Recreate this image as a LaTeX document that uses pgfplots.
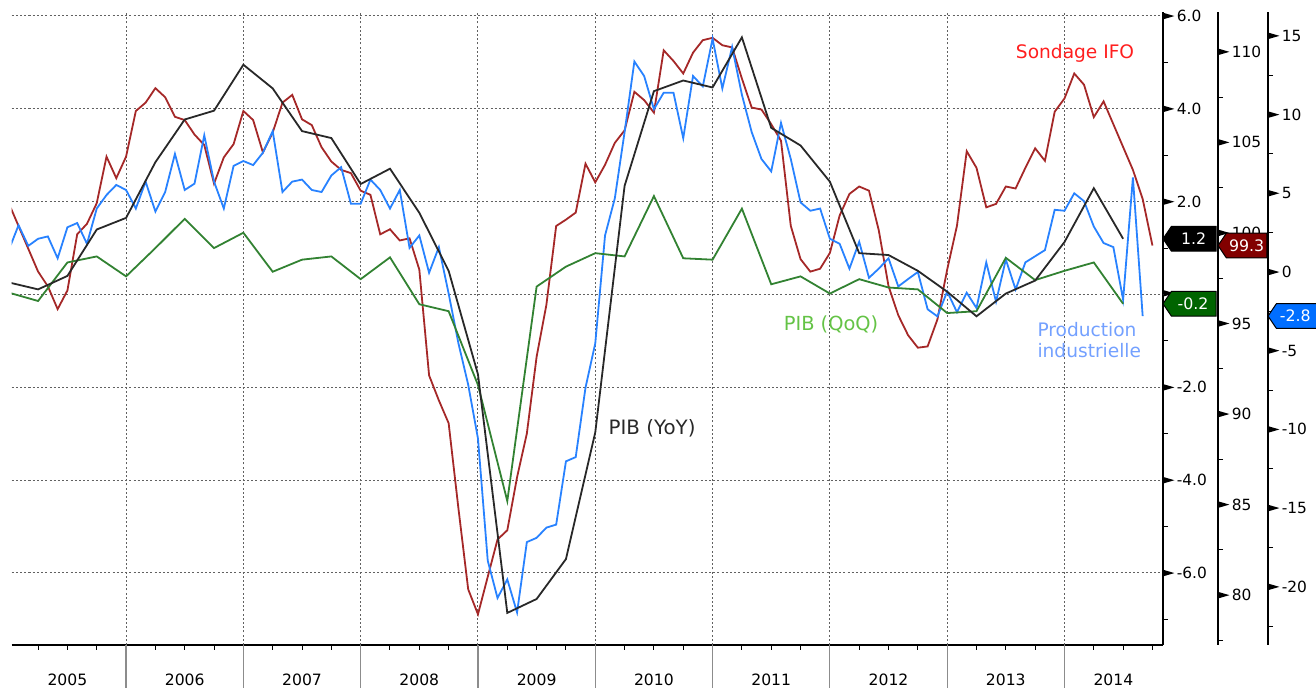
\documentclass[border=0pt]{standalone}
\usepackage{pgfplots}
\pgfplotsset{compat=1.18}
\usepackage{fontspec}
\setmainfont{DejaVu Sans}
\definecolor{ifoline}{RGB}{165,40,40}
\definecolor{prodline}{RGB}{40,130,255}
\definecolor{qoqline}{RGB}{50,130,50}
\definecolor{yoyline}{RGB}{40,40,40}
\definecolor{ifotext}{RGB}{255,30,30}
\definecolor{qoqtext}{RGB}{100,195,70}
\definecolor{prodtext}{RGB}{115,160,255}
\definecolor{tagred}{RGB}{130,0,0}
\definecolor{taggreen}{RGB}{0,100,0}
\definecolor{tagblue}{RGB}{0,110,255}
\newcommand{\tri}{\tikz[baseline=-0.36em]\fill[black] (0,-1.6pt)--(5.5pt,0)--(0,1.6pt)--cycle;}
\newcommand{\vtag}[5]{%
  \filldraw[fill=#2, draw=black, line width=0.5pt, line join=miter] (#1) -- ++(4.2pt,6.2pt) -- ++(#4,0) -- ++(0,-12.4pt) -- ++(-#4,0) -- cycle;
  \path (#1) ++(#5,0) node[text=white, font=\fontsize{7.9}{9}\selectfont, inner sep=0pt] {#3};
}
\pgfplotsset{
  base/.style={scale only axis, width=575.65pt, height=316.5pt, anchor=south west, xmin=0.3, xmax=118.08},
  pib/.style={ymin=-7.551, ymax=6.086},
  ifo/.style={ymin=77.245, ymax=112.197},
  prod/.style={ymin=-23.697, ymax=16.518},
  sidey/.style={hide x axis, axis y line=right, axis line style={-, line width=0.8pt},
    major tick length=0pt, minor tick length=2.5pt, tick align=outside,
    tick style={black, line width=0.5pt},
    yticklabel style={anchor=west, inner xsep=0pt, font=\fontsize{7.7}{9}\selectfont},
    yticklabel={\tri\hspace{1.2pt}\pgfmathprintnumber{\tick}},
    /pgf/number format/assume math mode=true, clip=false},
}
\begin{document}
\begin{tikzpicture}
\useasboundingbox (0,0) rectangle (658pt,344pt);
% main axis: grid, x axis, PIB scale
\begin{axis}[base, pib, at={(5.85pt,21.5pt)},
  axis x line=bottom, axis y line=right, axis line style={-, line width=0.8pt},
  ytick={-6,-4,-2,2,4,6}, minor ytick={-7,-5,...,5},
  extra y ticks={0}, extra y tick labels={\tri},
  extra y tick style={grid=major},
  xtick={6,18,30,42,54,66,78,90,102,113},
  xticklabels={2005,2006,2007,2008,2009,2010,2011,2012,2013,2014},
  minor xtick={3,6,9,15,18,21,27,30,33,39,42,45,51,54,57,63,66,69,75,78,81,87,90,93,99,102,105,111,114,117},
  extra x ticks={12,24,36,48,60,72,84,96,108},
  extra x tick labels={},
  extra x tick style={grid=major, major tick length=21.5pt, tick style={black!45, line width=0.6pt}},
  ymajorgrids,
  major grid style={black!62, line width=0.5pt, dash pattern=on 1pt off 1.1pt},
  major tick length=0pt, minor tick length=2.5pt, tick align=outside,
  tick style={black, line width=0.5pt},
  xticklabel style={anchor=base, yshift=-20.25pt, font=\fontsize{7.8}{9}\selectfont},
  yticklabel style={anchor=west, inner xsep=0pt, font=\fontsize{7.7}{9}\selectfont},
  yticklabel={\tri\hspace{1.2pt}\pgfmathprintnumber{\tick}},
  /pgf/number format/.cd, fixed, fixed zerofill, precision=1, assume math mode=true]
\end{axis}
% IFO data
\begin{axis}[base, ifo, at={(5.85pt,21.5pt)}, hide axis]
\addplot[ifoline, line width=0.9pt] table {
0 101.64
1 100.38
2 99.12
3 97.86
4 97.05
5 95.79
6 96.82
7 99.92
8 100.50
9 101.64
10 104.21
11 103.02
12 104.21
13 106.73
14 107.19
15 107.99
16 107.49
17 106.41
18 106.23
19 105.43
20 104.85
21 102.72
22 104.17
23 104.90
24 106.73
25 106.23
26 104.44
27 105.54
28 107.19
29 107.62
30 106.27
31 105.95
32 104.73
33 103.94
34 103.48
35 103.30
36 102.33
37 102.10
38 99.92
39 100.20
40 99.58
41 99.70
42 97.97
43 92.13
44 90.75
45 89.49
46 84.79
47 80.32
48 78.94
49 81.01
50 83.07
51 83.58
52 86.51
53 88.92
54 93.16
55 96.03
56 100.38
57 100.73
58 101.12
59 103.82
60 102.79
61 103.76
62 104.97
63 105.66
64 107.79
65 107.33
66 106.64
67 110.08
68 109.49
69 108.80
70 109.95
71 110.64
72 110.77
73 110.36
74 110.24
75 108.52
76 106.92
77 106.81
78 106.00
79 105.09
80 100.39
81 98.55
82 97.86
83 98.02
84 98.89
85 100.96
86 102.15
87 102.56
88 102.33
89 100.15
90 97.06
91 95.45
92 94.35
93 93.66
94 93.73
95 95.22
96 97.97
97 100.39
98 104.51
99 103.59
100 101.41
101 101.60
102 102.56
103 102.45
104 103.59
105 104.67
106 103.98
107 106.69
108 107.42
109 108.80
110 108.18
111 106.39
112 107.26
113 106.00
114 104.74
115 103.48
116 101.87
117 99.3
};
\end{axis}
% Production industrielle data
\begin{axis}[base, prod, at={(5.85pt,21.5pt)}, hide axis]
\addplot[prodline, line width=0.9pt] table {
0 1.39
1 2.97
2 1.66
3 2.11
4 2.26
5 0.87
6 2.84
7 3.11
8 1.79
9 4.03
10 4.89
11 5.53
12 5.21
13 4.03
14 5.74
15 3.84
16 5.08
17 7.50
18 5.21
19 5.61
20 8.68
21 5.74
22 4.03
23 6.74
24 7.05
25 6.79
26 7.58
27 8.95
28 5.08
29 5.74
30 5.87
31 5.21
32 5.08
33 6.13
34 6.66
35 4.34
36 4.34
37 5.87
38 5.21
39 4.03
40 5.21
41 1.53
42 2.32
43 -0.05
44 1.58
45 -1.37
46 -4.53
47 -7.16
48 -10.58
49 -18.34
50 -20.71
51 -19.53
52 -21.63
53 -17.16
54 -16.89
55 -16.24
56 -16.05
57 -12.03
58 -11.76
59 -7.35
60 -4.53
61 2.32
62 4.68
63 8.89
64 13.37
65 12.45
66 10.34
67 11.39
68 11.39
69 8.50
70 12.45
71 11.79
72 14.82
73 11.66
74 14.29
75 11.26
76 8.89
77 7.18
78 6.39
79 9.47
80 7.18
81 4.42
82 3.89
83 4.03
84 2.11
85 1.79
86 0.21
87 1.92
88 -0.37
89 0.21
90 0.87
91 -0.92
92 -0.45
93 0.00
94 -2.37
95 -2.82
96 -1.24
97 -2.55
98 -1.32
99 -2.29
100 0.61
101 -1.89
102 0.79
103 -1.11
104 0.61
105 1.00
106 1.39
107 3.95
108 3.89
109 5.00
110 4.50
111 2.89
112 1.84
113 1.58
114 -1.76
115 6.00
116 -2.8
};
\end{axis}
% PIB data (QoQ and YoY) and labels
\begin{axis}[base, pib, at={(5.85pt,21.5pt)}, hide axis, clip mode=individual]
\addplot[qoqline, line width=0.9pt] table {
0 0.04
3 -0.14
6 0.69
9 0.82
12 0.39
15 1.00
18 1.63
21 1.00
24 1.33
27 0.49
30 0.75
33 0.82
36 0.33
39 0.80
42 -0.21
45 -0.36
48 -1.95
51 -4.45
54 0.17
57 0.60
60 0.89
63 0.82
66 2.12
69 0.78
72 0.75
75 1.85
78 0.22
81 0.39
84 0.02
87 0.33
90 0.15
93 0.11
96 -0.40
99 -0.36
102 0.79
105 0.31
108 0.51
111 0.69
114 -0.2
};
\addplot[yoyline, line width=0.9pt] table {
0 0.26
3 0.11
6 0.40
9 1.40
12 1.65
15 2.85
18 3.77
21 3.96
24 4.95
27 4.44
30 3.52
33 3.37
36 2.38
39 2.71
42 1.76
45 0.51
48 -1.72
51 -6.86
54 -6.56
57 -5.70
60 -2.97
63 2.34
66 4.38
69 4.61
72 4.46
75 5.54
78 3.59
81 3.21
84 2.43
87 0.89
90 0.85
93 0.51
96 0.06
99 -0.47
102 0.02
105 0.30
108 1.13
111 2.29
114 1.2
};
\node[text=ifotext, font=\fontsize{9.3}{11}\selectfont] at (axis cs:109.08,5.203) {Sondage IFO};
\node[text=yoyline, font=\fontsize{9.9}{11}\selectfont] at (axis cs:65.81,-2.876) {PIB (YoY)};
\node[text=qoqtext, font=\fontsize{9.7}{11}\selectfont] at (axis cs:84.12,-0.636) {PIB (QoQ)};
\node[text=prodtext, font=\fontsize{9.3}{11}\selectfont, anchor=west, inner xsep=0pt] at (axis cs:105.2,-0.765) {Production};
\node[text=prodtext, font=\fontsize{9.3}{11}\selectfont, anchor=west, inner xsep=0pt] at (axis cs:105.2,-1.217) {industrielle};
\coordinate (tagyoy) at (axis cs:118.08,1.2);
\coordinate (tagqoq) at (axis cs:118.08,-0.2);
\end{axis}
% IFO scale
\begin{axis}[base, ifo, at={(33.35pt,21.5pt)}, sidey,
  ytick={80,85,...,110}, minor ytick={77.5,82.5,...,112.5}]
\coordinate (tagifo) at (axis cs:118.08,99.3);
\end{axis}
% Production scale
\begin{axis}[base, prod, at={(58.35pt,21.5pt)}, sidey,
  ytick={-20,-15,...,15}, minor ytick={-22.5,-17.5,...,12.5}]
\coordinate (tagprod) at (axis cs:118.08,-2.8);
\end{axis}
\vtag{tagyoy}{black}{1.2}{22.3pt}{15.3pt}
\vtag{tagqoq}{taggreen}{-0.2}{22.3pt}{15.0pt}
\vtag{tagifo}{tagred}{99.3}{20.2pt}{14.3pt}
\vtag{tagprod}{tagblue}{-2.8}{30pt}{13.6pt}
\end{tikzpicture}
\end{document}
